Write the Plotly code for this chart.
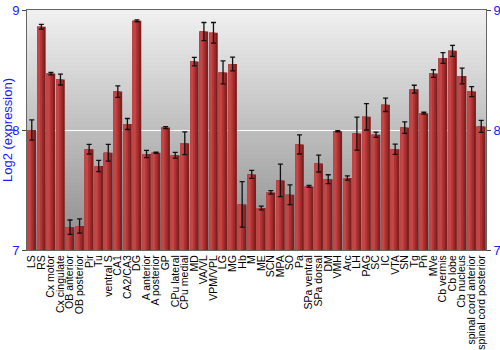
import plotly.graph_objects as go

regions = ["LS", "RS", "Cx motor", "Cx cingulate", "OB anterior", "OB posterior", "Pir", "Tu",
           "ventral S", "CA1", "CA2/CA3", "DG", "A anterior", "A posterior", "GP", "CPu lateral",
           "CPu medial", "MD", "VA/VL", "VPM/VPL", "LG", "MG", "Hb", "M", "ME", "SCN", "MPA", "SO",
           "Pa", "SPa ventral", "SPa dorsal", "DM", "VMH", "Arc", "LH", "PAG", "SC", "IC", "VTA",
           "SN", "Tg", "Pn", "MVe", "Cb vermis", "Cb lobe", "Cb nucleus", "spinal cord anterior",
           "spinal cord posterior"]

expression = [8.00, 8.86, 8.47, 8.42, 7.19, 7.20, 7.84, 7.70,
              7.81, 8.32, 8.05, 8.91, 7.80, 7.81, 8.02, 7.79,
              7.89, 8.57, 8.82, 8.81, 8.48, 8.55, 7.38, 7.63, 7.35, 7.48, 7.58, 7.46,
              7.88, 7.53, 7.72, 7.59, 7.99, 7.60, 7.97, 8.11, 7.96, 8.21, 7.84,
              8.02, 8.34, 8.14, 8.47, 8.60, 8.66, 8.45, 8.32,
              8.03]

error = [0.085, 0.02, 0.01, 0.045, 0.06, 0.06, 0.04, 0.047,
         0.07, 0.048, 0.046, 0.008, 0.03, 0.005, 0.008, 0.024,
         0.095, 0.036, 0.076, 0.086, 0.096, 0.058, 0.19, 0.033, 0.015, 0.014, 0.136, 0.082,
         0.08, 0.008, 0.07, 0.037, 0.005, 0.017, 0.137, 0.11, 0.022, 0.056, 0.043,
         0.048, 0.033, 0.008, 0.032, 0.044, 0.046, 0.065, 0.042,
         0.05]

y_ticks = [7, 8, 9]
y_range = [7, 9]

blue = "#1a1aff"
font_family = "Liberation Sans, Arial, sans-serif"

fig = go.Figure()

# bar strips to imitate the horizontal shading of each bar
strips = [
    (-0.45, 0.90, "#7e1f1f"),
    (-0.45, 0.70, "#9a2a2a"),
    (-0.45, 0.52, "#b23434"),
    (-0.42, 0.30, "#c44646"),
    (-0.45, 0.04, "#b84848"),
]
for i, (off, w, col) in enumerate(strips):
    fig.add_trace(go.Bar(
        x=regions, y=expression,
        offset=off, width=w,
        marker=dict(color=col, line=dict(width=0)),
        hoverinfo="skip" if i < len(strips) - 1 else "x+y",
        showlegend=False,
    ))

# error bars on top
fig.add_trace(go.Scatter(
    x=regions, y=expression, mode="markers",
    marker=dict(size=1, opacity=0),
    error_y=dict(type="data", array=error, visible=True, color="#111111",
                 thickness=1.3, width=2.5),
    showlegend=False,
))

# right-side axis mirror
fig.add_trace(go.Scatter(x=regions, y=expression, yaxis="y2", mode="markers",
                         marker=dict(opacity=0, size=1), hoverinfo="skip", showlegend=False))

# gradient background bands
n = 60
shapes = []
for k in range(n):
    t = k / (n - 1)
    g = int(round(140 + (240 - 140) * t))
    shapes.append(dict(type="rect", xref="paper", yref="paper",
                       x0=0, x1=1, y0=k / n, y1=(k + 1) / n,
                       fillcolor=f"rgb({g},{g},{g})", line=dict(width=0), layer="below"))

fig.update_layout(
    width=500, height=350,
    margin=dict(l=27, r=14, t=10, b=100, autoexpand=False),
    paper_bgcolor="white",
    plot_bgcolor="#c0c0c0",
    barmode="overlay",
    shapes=shapes,
    font=dict(family=font_family, size=11, color="black"),
    xaxis=dict(
        type="category", tickangle=-90, tickmode="linear", dtick=1,
        tickfont=dict(size=10.5, color="black", family=font_family),
        showgrid=False, showline=True, linecolor="#666666", linewidth=1, mirror=True,
        ticks="", range=[-0.5, len(regions) - 0.5], automargin=False,
    ),
    yaxis=dict(
        range=y_range, tickvals=y_ticks, ticktext=[str(v) for v in y_ticks],
        tickfont=dict(size=13, color=blue, family=font_family),
        title=dict(text="Log2 (expression)", font=dict(size=13, color=blue, family=font_family), standoff=2),
        showgrid=True, gridcolor="white", gridwidth=1,
        showline=True, linecolor="#666666", linewidth=1,
        ticks="outside", ticklen=4, tickcolor="#444444",
        zeroline=False, automargin=False,
    ),
    yaxis2=dict(
        range=y_range, tickvals=y_ticks, ticktext=[str(v) for v in y_ticks],
        tickfont=dict(size=13, color=blue, family=font_family),
        overlaying="y", side="right", showgrid=False,
        showline=True, linecolor="#666666", linewidth=1,
        ticks="outside", ticklen=4, tickcolor="#444444",
        zeroline=False, automargin=False,
    ),
)

fig.write_html("out.html")
